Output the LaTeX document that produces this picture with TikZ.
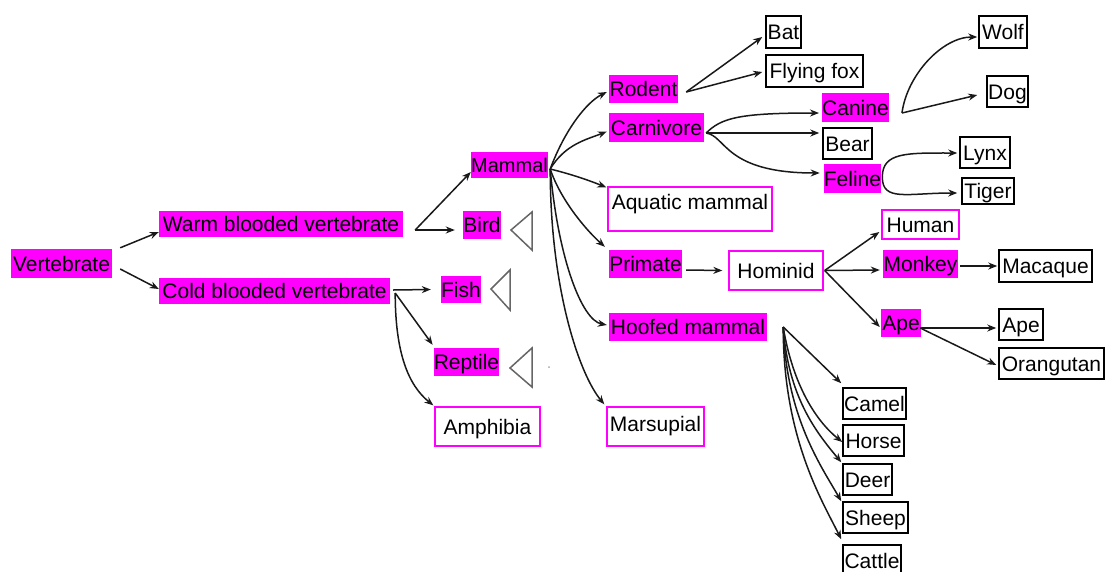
\documentclass[tikz,border=0pt]{standalone}
\usepackage{fontspec}
\setmainfont{Liberation Sans}
\usetikzlibrary{arrows.meta,calc}
\definecolor{mag}{HTML}{FF00FF}
\begin{document}
\begin{tikzpicture}[x=1pt,y=-1pt,
  every node/.style={font=\fontsize{21}{25}\selectfont, inner sep=0pt, text height=15pt, text depth=0pt},
  sz/.style 2 args={minimum width=#1pt, minimum height=#2pt},
  mf/.style={fill=mag},
  mo/.style={draw=mag, line width=1.3pt, fill=white},
  bo/.style={draw=black, line width=1.5pt, fill=white},
  arr/.style={draw=black!90, line width=1.5pt, -{Stealth[length=9pt,width=7pt]}},
  tri/.style={draw=black!60, line width=1.5pt, line join=miter}]
\useasboundingbox (0,0) rectangle (1106,571);
% nodes
\node[mf,sz={101}{29}] (vert) at (61.5,263.5) {Vertebrate};
\node[mf,sz={244}{26}] (warm) at (281,224) {Warm blooded vertebrate};
\node[mf,sz={231}{26}] (cold) at (274.5,291) {Cold blooded vertebrate};
\node[mf,sz={77}{26},font=\fontsize{20}{24}\selectfont] (mammal) at (509.5,165) {Mammal};
\node[mf,sz={38}{28}] (bird) at (482,225) {Bird};
\node[mf,sz={40}{27}] (fish) at (461,289.5) {Fish};
\node[mf,sz={65}{28}] (reptile) at (466.5,362) {Reptile};
\node[mo,sz={105}{39}] (amphibia) at (487.5,426.5) {Amphibia};
\node[mf,sz={69}{28}] (rodent) at (643.5,89) {Rodent};
\node[mf,sz={95}{29}] (carnivore) at (656.5,127.5) {Carnivore};
\node[mo,sz={164}{44},text height=22pt,text depth=22pt] (aquatic) at (690,209) {Aquatic mammal};
\node[mf,sz={73}{28}] (primate) at (645.5,264) {Primate};
\node[mo,sz={94}{39}] (hominid) at (776,270.5) {Hominid};
\node[mf,sz={158}{28}] (hoofed) at (688,327) {Hoofed mammal};
\node[mo,sz={97}{39},text height=24pt,text depth=15pt] (marsupial) at (655.5,426.5) {Marsupial};
\node[bo,sz={35}{32}] (bat) at (783.5,32) {Bat};
\node[bo,sz={97}{32}] (flyfox) at (814.5,71) {Flying fox};
\node[mf,sz={65}{29}] (canine) at (855.5,107.5) {Canine};
\node[bo,sz={49}{31}] (bear) at (847.5,143.5) {Bear};
\node[mf,sz={57}{29}] (feline) at (852.5,178.5) {Feline};
\node[bo,sz={48}{32}] (wolf) at (1003,32) {Wolf};
\node[bo,sz={41}{31}] (dog) at (1007.5,91.5) {Dog};
\node[bo,sz={50}{31}] (lynx) at (985,152.5) {Lynx};
\node[bo,sz={52}{26}] (tiger) at (988,191) {Tiger};
\node[mo,sz={77}{29}] (human) at (920.5,224.5) {Human};
\node[mf,sz={75}{28}] (monkey) at (920.5,264) {Monkey};
\node[mf,sz={40}{28}] (apeA) at (901,323) {Ape};
\node[bo,sz={93}{32}] (macaque) at (1045.5,266) {Macaque};
\node[bo,sz={44}{31}] (apeB) at (1021,324.5) {Ape};
\node[bo,sz={105}{31}] (orangutan) at (1051.5,363.5) {Orangutan};
\node[bo,sz={63}{31}] (camel) at (874.5,403.5) {Camel};
\node[bo,sz={61}{31}] (horse) at (873.5,440.5) {Horse};
\node[bo,sz={49}{31}] (deer) at (867.5,479.5) {Deer};
\node[bo,sz={65}{31}] (sheep) at (875.5,517.5) {Sheep};
\node[bo,sz={58}{31}] (cattle) at (872,560.5) {Cattle};
% junctions
\coordinate (jw) at ($(warm.east)+(12,6)$);
\coordinate (jc) at ($(cold.east)+(3,-1)$);
\coordinate (jc2) at ($(cold.east)+(5,2)$);
\coordinate (jm) at ($(mammal.east)+(2,4)$);
\coordinate (jr) at ($(rodent.east)+(8,3)$);
\coordinate (jcv) at ($(carnivore.east)+(2,5.5)$);
\coordinate (jcn) at ($(canine.east)+(13,5.5)$);
\coordinate (jf) at ($(feline.east)+(1,-1.5)$);
\coordinate (jh) at ($(hominid.east)+(1,0)$);
\coordinate (ja) at ($(apeA.east)+(-1,5)$);
\coordinate (jho) at ($(hoofed.east)+(16,0)$);
% connectors
\draw[arr] ($(vert.north east)+(8,-1)$) -- ($(warm.west)+(0,8)$);
\draw[arr] ($(vert.east)+(8,5.5)$) -- ($(cold.west)+(0,-2)$);
\draw[arr] (jw) -- ($(mammal.west)+(0,7)$);
\draw[arr] (jw) -- ($(bird.west)+(-8,5)$);
\draw[arr] (jc) -- ($(fish.west)+(-10,0)$);
\draw[arr] (jc2) -- ($(reptile.north west)+(-1,-3)$);
\draw[arr] (jc2) .. controls +(0,60) and +(-25,-20) .. ($(amphibia.north west)+(-1,-1)$);
\draw[arr] (jm) .. controls +(15,-40) and +(-20,10) .. ($(rodent.west)+(-2,3)$);
\draw[arr] (jm) .. controls +(15,-25) and +(-20,8) .. ($(carnivore.west)+(-2,4)$);
\draw[arr] (jm) .. controls +(20,5) and +(-20,-8) .. ($(aquatic.north west)+(-1,1)$);
\draw[arr] (jm) .. controls +(10,30) and +(-20,-18) .. ($(primate.north west)+(-4,-3)$);
\draw[arr] (jm) .. controls +(8,90) and +(-25,-5) .. ($(hoofed.west)+(-2,-2)$);
\draw[arr] (jm) .. controls +(0,120) and +(-25,-30) .. ($(marsupial.north west)+(-2,-2)$);
\draw[arr] (jr) -- ($(bat.west)+(-3,5)$);
\draw[arr] (jr) -- ($(flyfox.west)+(-3,1)$);
\draw[arr] (jcv) .. controls +(15,-15) and +(-80,0) .. ($(canine.west)+(-3,5.5)$);
\draw[arr] (jcv) -- ($(bear.west)+(-3,-10.5)$);
\draw[arr] (jcv) .. controls +(20,3) and +(-95,0) .. ($(feline.west)+(-4,-5.5)$);
\draw[arr] (jcn) .. controls +(5,-38) and +(-35,0) .. ($(wolf.west)+(-1,5)$);
\draw[arr] (jcn) -- ($(dog.west)+(-9,3.5)$);
\draw[arr] (jf) .. controls +(0,-25) and +(-50,0) .. ($(lynx.west)+(-2,0.5)$);
\draw[arr] (jf) .. controls +(0,25) and +(-50,0) .. ($(tiger.west)+(-4,2)$);
\draw[arr] ($(primate.east)+(4,6)$) -- ($(hominid.west)+(-6,0)$);
\draw[arr] (jh) -- ($(human.west)+(-2,7.5)$);
\draw[arr] (jh) -- ($(monkey.west)+(-3,6)$);
\draw[arr] (jh) -- ($(apeA.west)+(-1,4)$);
\draw[arr] ($(monkey.east)+(2,2)$) -- ($(macaque.west)+(-1,0)$);
\draw[arr] (ja) -- ($(apeB.west)+(-2,3.5)$);
\draw[arr] (ja) -- ($(orangutan.west)+(-2,1.5)$);
\draw[arr] (jho) -- ($(camel.north west)+(-1,-4)$);
\draw[arr] (jho) .. controls +(10,60) and +(-25,-20) .. ($(horse.west)+(0,1.5)$);
\draw[arr] (jho) .. controls +(5,70) and +(-25,-30) .. ($(deer.north west)+(-1,-1)$);
\draw[arr] (jho) .. controls +(3,90) and +(-20,-35) .. ($(sheep.north west)+(-1,0)$);
\draw[arr] (jho) .. controls +(0,110) and +(-20,-40) .. ($(cattle.north west)+(-1,-5)$);
% triangles
\draw[tri] (532,212) -- (511,230) -- (532,250) -- cycle;
\draw[tri] (510,270) -- (491,289) -- (510,310) -- cycle;
\draw[tri] (532,348) -- (510,368) -- (532,387) -- cycle;
\fill[black!35] (549,367) circle (1);
\end{tikzpicture}
\end{document}
